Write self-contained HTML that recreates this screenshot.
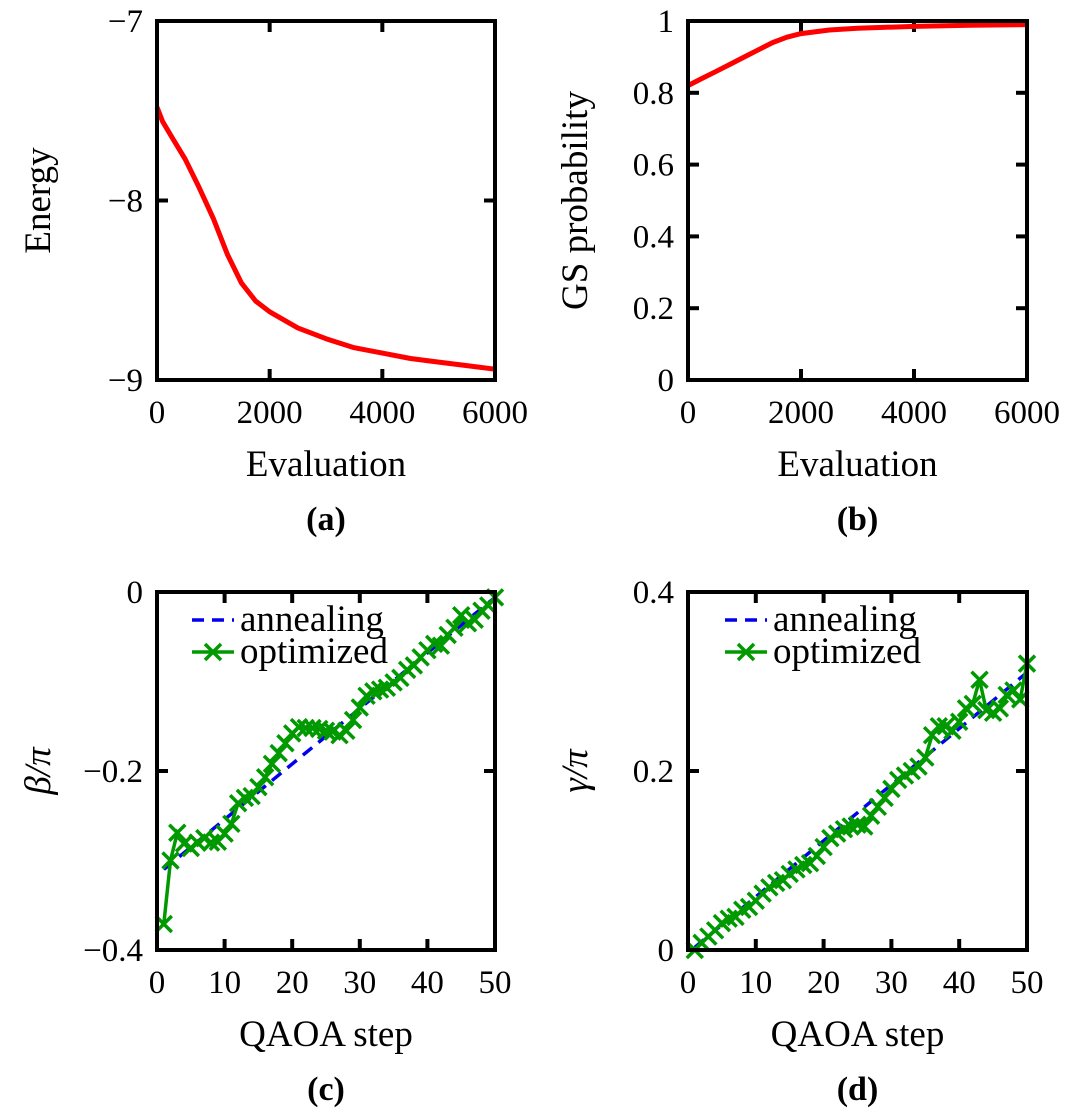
<!DOCTYPE html>
<html><head><meta charset="utf-8"><style>
body{margin:0;background:#fff}
svg text{font-family:"Liberation Serif","DejaVu Serif",serif;fill:#000}
</style></head><body>
<svg id="fig" width="1065" height="1112" viewBox="0 0 1065 1112" xmlns="http://www.w3.org/2000/svg"></svg>
<script>
// Panel (a) energy
const evalX = [0,100,250,500,750,1000,1250,1500,1750,2000,2500,3000,3500,4000,4500,5000,5500,6000];
const energyY = [-7.48,-7.56,-7.64,-7.77,-7.93,-8.1,-8.3,-8.46,-8.56,-8.62,-8.71,-8.77,-8.82,-8.85,-8.88,-8.9,-8.92,-8.94];
// Panel (b) GS probability
const probX = [0,250,500,750,1000,1250,1500,1750,2000,2500,3000,4000,5000,6000];
const probY = [0.82,0.84,0.86,0.88,0.90,0.92,0.94,0.955,0.965,0.975,0.98,0.985,0.988,0.99];
// Panel (c) beta/pi
const steps = [];
for (let i=1;i<=50;i++) steps.push(i);
const betaOpt = [-0.371,-0.30,-0.269,-0.281,-0.286,-0.28,-0.275,-0.28,-0.279,-0.27,-0.259,-0.236,-0.23,-0.228,-0.218,-0.207,-0.192,-0.18,-0.169,-0.158,-0.151,-0.152,-0.152,-0.153,-0.155,-0.156,-0.16,-0.155,-0.143,-0.129,-0.116,-0.111,-0.109,-0.107,-0.101,-0.096,-0.087,-0.082,-0.073,-0.065,-0.058,-0.06,-0.048,-0.04,-0.026,-0.035,-0.031,-0.021,-0.015,-0.006];
const annealSteps = [1,50];
const betaAnneal = [-0.31,-0.006];
// Panel (d) gamma/pi
const gammaOpt = [0.000,0.008,0.015,0.022,0.030,0.035,0.037,0.045,0.048,0.055,0.063,0.070,0.075,0.078,0.085,0.090,0.095,0.097,0.105,0.115,0.125,0.130,0.135,0.138,0.140,0.138,0.150,0.160,0.170,0.180,0.190,0.195,0.200,0.205,0.215,0.240,0.250,0.250,0.245,0.255,0.270,0.275,0.302,0.268,0.265,0.270,0.285,0.290,0.280,0.320];
const gammaAnneal = [0.003,0.31];

const NS='http://www.w3.org/2000/svg';
const svg=document.getElementById('fig');
function mk(tag,attrs,parent){const e=document.createElementNS(NS,tag);for(const k in attrs)e.setAttribute(k,attrs[k]);(parent||svg).appendChild(e);return e;}
function txt(s,x,y,size,anchor,parent,weight){const t=mk('text',{x:x,y:y,'font-size':size,'text-anchor':anchor||'middle'},parent);if(weight)t.setAttribute('font-weight',weight);t.textContent=s;return t;}

function panel(cfg){
  const g=mk('g',{});
  
  
  const sx=v=>cfg.x0+(v-cfg.xmin)/(cfg.xmax-cfg.xmin)*(cfg.x1-cfg.x0);
  const sy=v=>cfg.y1-(v-cfg.ymin)/(cfg.ymax-cfg.ymin)*(cfg.y1-cfg.y0);
  cfg.xticks.forEach((v,i)=>{
    const x=sx(v);
    const l1=mk('line',{x1:x,x2:x,y1:cfg.y1,y2:cfg.y1-11,stroke:'#000','stroke-width':4},g);
    
    
    mk('line',{x1:x,x2:x,y1:cfg.y0,y2:cfg.y0+11,stroke:'#000','stroke-width':4},g);
    const t=txt(cfg.xlabels[i],x,cfg.y1+43,33,'middle',g);
    
    
  });
  cfg.yticks.forEach((v,i)=>{
    const y=sy(v);
    mk('line',{x1:cfg.x0,x2:cfg.x0+11,y1:y,y2:y,stroke:'#000','stroke-width':4},g);
    mk('line',{x1:cfg.x1,x2:cfg.x1-11,y1:y,y2:y,stroke:'#000','stroke-width':4},g);
    const t=txt(cfg.ylabels[i],cfg.x0-14,y+11,33,'end',g);
    
    
  });
  cfg.draw(g,sx,sy);
  const fr=mk('rect',{x:cfg.x0,y:cfg.y0,width:cfg.x1-cfg.x0,height:cfg.y1-cfg.y0,fill:'none',stroke:'#000','stroke-width':4},g);
  
  
  const xt=txt(cfg.xtitle,(cfg.x0+cfg.x1)/2,cfg.y1+96,37,'middle',g);
  
  
  const cx=cfg.ytx, cy=(cfg.y0+cfg.y1)/2;
  const yt=txt(cfg.ytitle,cx,cy,37,'middle',g);
  yt.setAttribute('transform','rotate(-90 '+cx+' '+cy+')');
  if(cfg.italic) yt.setAttribute('font-style','italic');
  
  
  const pl=txt(cfg.plabel,(cfg.x0+cfg.x1)/2,cfg.y1+150,34,'middle',g,'bold');
  
  
}
function poly(g,xs,ys,sx,sy,attrs){
  const pts=xs.map((x,i)=>sx(x).toFixed(1)+','+sy(ys[i]).toFixed(1)).join(' ');
  return mk('polyline',Object.assign({points:pts,fill:'none'},attrs),g);
}
function cross(g,x,y){
  const s=8;
  return mk('path',{d:`M${x-s},${y-s}L${x+s},${y+s}M${x-s},${y+s}L${x+s},${y-s}`,stroke:'#009900','stroke-width':3.5},g);
}
function legend(g,x,y){
  const l=mk('line',{x1:x,x2:x+42,y1:y,y2:y,stroke:'#0000ee','stroke-width':3.5,'stroke-dasharray':'12,8'},g);
  
  
  const t1=txt('annealing',x+48,y+11,37,'start',g);
  
  
  mk('line',{x1:x,x2:x+42,y1:y+32,y2:y+32,stroke:'#009900','stroke-width':3.5},g);
  const m=cross(g,x+21,y+32);
  
  
  const t2=txt('optimized',x+48,y+43,37,'start',g);
  
  
}

panel({name:'panel-a-energy',x0:157,x1:495,y0:21,y1:380,xmin:0,xmax:6000,ymin:-9,ymax:-7,
  xticks:[0,2000,4000,6000],xlabels:['0','2000','4000','6000'],
  yticks:[-9,-8,-7],ylabels:['−9','−8','−7'],xtitle:'Evaluation',ytitle:'Energy',ytx:50,plabel:'(a)',
  draw:(g,sx,sy)=>{const p=poly(g,evalX,energyY,sx,sy,{stroke:'#ff0000','stroke-width':5,'stroke-linejoin':'round'});
    
    }
});
panel({name:'panel-b-gs-probability',x0:688,x1:1027,y0:21,y1:380,xmin:0,xmax:6000,ymin:0,ymax:1,
  xticks:[0,2000,4000,6000],xlabels:['0','2000','4000','6000'],
  yticks:[0,0.2,0.4,0.6,0.8,1],ylabels:['0','0.2','0.4','0.6','0.8','1'],xtitle:'Evaluation',ytitle:'GS probability',ytx:587,plabel:'(b)',
  draw:(g,sx,sy)=>{const p=poly(g,probX,probY,sx,sy,{stroke:'#ff0000','stroke-width':5,'stroke-linejoin':'round'});
    
    }
});
panel({name:'panel-c-beta',x0:157,x1:495,y0:592,y1:950,xmin:0,xmax:50,ymin:-0.4,ymax:0,
  xticks:[0,10,20,30,40,50],xlabels:['0','10','20','30','40','50'],
  yticks:[-0.4,-0.2,0],ylabels:['−0.4','−0.2','0'],xtitle:'QAOA step',ytitle:'β/π',ytx:50,italic:true,plabel:'(c)',
  draw:(g,sx,sy)=>{
    const a=poly(g,annealSteps,betaAnneal,sx,sy,{stroke:'#0000ee','stroke-width':3.5,'stroke-dasharray':'12,8'});
    
    
    const o=poly(g,steps,betaOpt,sx,sy,{stroke:'#009900','stroke-width':3.5});
    
    
    steps.forEach((s,i)=>{const m=cross(g,sx(s),sy(betaOpt[i]));
      
      });
    legend(g,192,620);
  }
});
panel({name:'panel-d-gamma',x0:688,x1:1027,y0:592,y1:950,xmin:0,xmax:50,ymin:0,ymax:0.4,
  xticks:[0,10,20,30,40,50],xlabels:['0','10','20','30','40','50'],
  yticks:[0,0.2,0.4],ylabels:['0','0.2','0.4'],xtitle:'QAOA step',ytitle:'γ/π',ytx:587,italic:true,plabel:'(d)',
  draw:(g,sx,sy)=>{
    const a=poly(g,annealSteps,gammaAnneal,sx,sy,{stroke:'#0000ee','stroke-width':3.5,'stroke-dasharray':'12,8'});
    
    
    const o=poly(g,steps,gammaOpt,sx,sy,{stroke:'#009900','stroke-width':3.5});
    
    
    steps.forEach((s,i)=>{const m=cross(g,sx(s),sy(gammaOpt[i]));
      
      });
    legend(g,725,620);
  }
});
</script>
</body></html>
